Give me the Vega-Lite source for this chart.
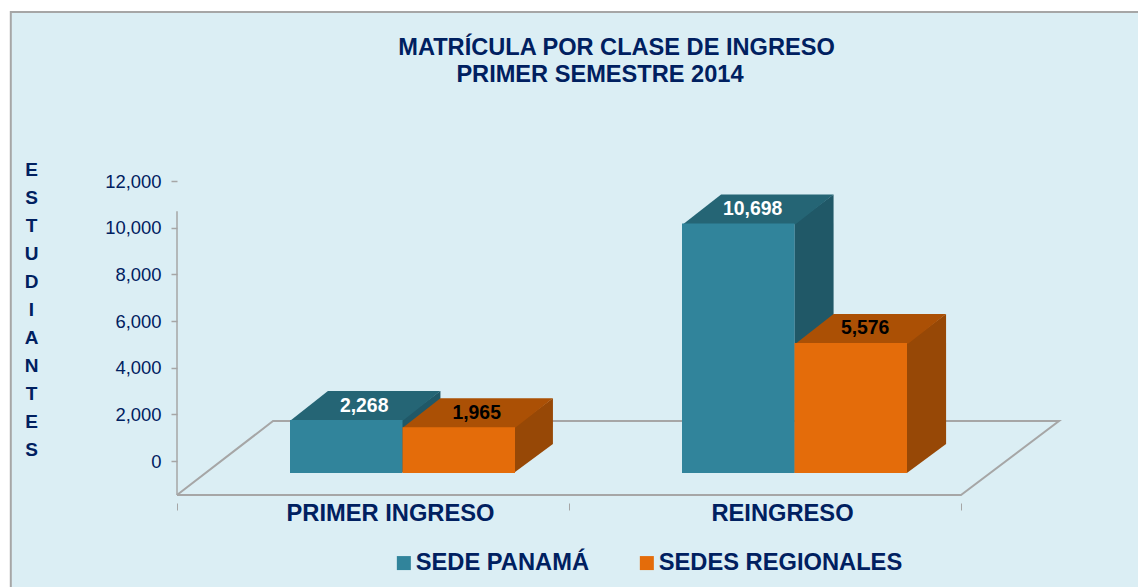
{
  "$schema": "https://vega.github.io/schema/vega-lite/v6.json",
  "width": 883,
  "height": 314,
  "autosize": {"type": "none"},
  "padding": {"left": 177, "top": 181, "right": 78, "bottom": 92},
  "background": "white",
  "config": {"view": {"stroke": null}, "font": "Liberation Sans"},
  "title": {
    "text": "MATRÍCULA POR CLASE DE INGRESO",
    "anchor": "middle",
    "frame": "group",
    "dx": -2,
    "font": "Liberation Sans",
    "fontWeight": "bold",
    "fontSize": 23.6,
    "color": "#002060",
    "offset": -49
  },
  "datasets": {
    "matricula": [
      {"clase": "PRIMER INGRESO", "sede": "SEDE PANAMÁ", "estudiantes": 2268},
      {"clase": "PRIMER INGRESO", "sede": "SEDES REGIONALES", "estudiantes": 1965},
      {"clase": "REINGRESO", "sede": "SEDE PANAMÁ", "estudiantes": 10698},
      {"clase": "REINGRESO", "sede": "SEDES REGIONALES", "estudiantes": 5576}
    ],
    "suelo": [
      {"orden": 1, "px": 0, "py": -1457},
      {"orden": 2, "px": 0.245, "py": 1714},
      {"orden": 3, "px": 2.25, "py": 1714},
      {"orden": 4, "px": 2.0, "py": -1457},
      {"orden": 5, "px": 0, "py": -1457}
    ]
  },
  "resolve": {"scale": {"x": "independent"}, "axis": {"x": "independent"}},
  "layer": [
    {
      "data": {"values": [{"marco": "panel"}]},
      "mark": {"type": "rect", "fill": "#dbeef4", "stroke": "#a6a6a6", "strokeWidth": 2},
      "encoding": {
        "x": {"datum": -0.424, "type": "quantitative", "scale": {"domain": [0, 2.2526], "nice": false, "zero": false}, "axis": null},
        "x2": {"datum": 2.7},
        "y": {"datum": 19243, "type": "quantitative", "scale": {"domain": [-1457, 12000], "nice": false, "zero": false}},
        "y2": {"datum": -5500}
      }
    },
    {
      "data": {"name": "suelo"},
      "mark": {"type": "line", "color": "#a6a6a6", "strokeWidth": 2, "interpolate": "linear"},
      "encoding": {
        "x": {"field": "px", "type": "quantitative", "scale": {"domain": [0, 2.2526], "nice": false, "zero": false}, "axis": null},
        "y": {"field": "py", "type": "quantitative"},
        "order": {"field": "orden", "type": "quantitative"}
      }
    },
    {
      "data": {"values": [{"eje": "y"}]},
      "mark": {"type": "rule", "color": "#a6a6a6", "strokeWidth": 1.5},
      "encoding": {
        "x": {"datum": 0, "type": "quantitative", "scale": {"domain": [0, 2.2526], "nice": false, "zero": false}, "axis": null},
        "y": {"datum": -1457, "type": "quantitative"},
        "y2": {"datum": 10700}
      }
    },
    {
      "data": {"name": "matricula"},
      "transform": [
        {"calculate": "(datum.clase === 'PRIMER INGRESO' ? 0.288 : 1.291) + (datum.sede === 'SEDE PANAMÁ' ? 0 : 0.287)", "as": "x0"},
        {"calculate": "datum.x0 + 0.284", "as": "x1"},
        {"calculate": "[0, 1]", "as": "d"},
        {"flatten": ["d"]},
        {"calculate": "datum.x1 + datum.d * 0.100", "as": "xs"},
        {"calculate": "datum.estudiantes + datum.d * 1243", "as": "ys"},
        {"calculate": "datum.d * 1243", "as": "ys2"}
      ],
      "mark": {"type": "area", "orient": "vertical", "yOffset": 12, "y2Offset": 12},
      "encoding": {
        "x": {"field": "xs", "type": "quantitative", "scale": {"domain": [0, 2.2526], "nice": false, "zero": false}, "axis": null},
        "y": {"field": "ys", "type": "quantitative", "stack": null},
        "y2": {"field": "ys2"},
        "detail": [{"field": "clase"}, {"field": "sede"}],
        "fill": {"condition": {"test": "datum.sede === 'SEDE PANAMÁ'", "value": "#205867"}, "value": "#974806"}
      }
    },
    {
      "data": {"name": "matricula"},
      "transform": [
        {"calculate": "(datum.clase === 'PRIMER INGRESO' ? 0.288 : 1.291) + (datum.sede === 'SEDE PANAMÁ' ? 0 : 0.287)", "as": "x0"},
        {"calculate": "datum.x0 + 0.287", "as": "x1"},
        {"calculate": "[0, 1]", "as": "d"},
        {"flatten": ["d"]},
        {"calculate": "datum.x0 + datum.d * 0.097", "as": "xa"},
        {"calculate": "datum.x1 + datum.d * 0.097", "as": "xb"},
        {"calculate": "datum.estudiantes - 40 + datum.d * 1283", "as": "ys"}
      ],
      "mark": {"type": "area", "orient": "horizontal", "yOffset": 12},
      "encoding": {
        "y": {"field": "ys", "type": "quantitative", "stack": null},
        "x": {"field": "xa", "type": "quantitative", "scale": {"domain": [0, 2.2526], "nice": false, "zero": false}, "axis": null, "stack": null},
        "x2": {"field": "xb"},
        "detail": [{"field": "clase"}, {"field": "sede"}],
        "fill": {"condition": {"test": "datum.sede === 'SEDE PANAMÁ'", "value": "#256575"}, "value": "#ab5005"}
      }
    },
    {
      "data": {"name": "matricula"},
      "mark": {"type": "bar", "yOffset": 12, "y2Offset": 12},
      "encoding": {
        "x": {"field": "clase", "type": "nominal", "scale": {"range": [0, 784], "paddingInner": 0, "paddingOuter": 0}, "axis": {
          "title": null,
          "labelAngle": 0,
          "labelFont": "Liberation Sans",
          "labelFontWeight": "bold",
          "labelFontSize": 23.7,
          "labelColor": "#002060",
          "labelOffset": 17,
          "labelPadding": -9,
          "labelLimit": 400,
          "domain": false,
          "ticks": true,
          "tickBand": "extent",
          "tickSize": 7,
          "tickColor": "#a6a6a6",
          "offset": 8,
          "zindex": 1
        }},
        "xOffset": {"field": "sede", "type": "nominal", "scale": {"range": [113, 338], "paddingInner": 0, "paddingOuter": 0}},
        "y": {"field": "estudiantes", "type": "quantitative", "stack": null, "axis": {
          "values": [0, 2000, 4000, 6000, 8000, 10000, 12000],
          "labelExpr": "format(datum.value, ',')",
          "domain": false,
          "grid": false,
          "zindex": 1,
          "ticks": true,
          "tickSize": 6,
          "tickColor": "#a6a6a6",
          "tickWidth": 1.5,
          "labelFont": "Liberation Sans",
          "labelFontSize": 18.4,
          "labelColor": "#002060",
          "labelPadding": 10,
          "labelBaseline": "middle",
          "title": ["E", "S", "T", "U", "D", "I", "A", "N", "T", "E", "S"],
          "titleFont": "Liberation Sans",
          "titleFontWeight": "bold",
          "titleFontSize": 19,
          "titleColor": "#002060",
          "titleAngle": 0,
          "titleAlign": "center",
          "titleBaseline": "top",
          "titleLineHeight": 28,
          "titleX": -146,
          "titleY": -21
        }},
        "y2": {"datum": 0},
        "color": {"field": "sede", "type": "nominal", "scale": {"domain": ["SEDE PANAMÁ", "SEDES REGIONALES"], "range": ["#31849b", "#e46c0a"]}, "legend": {
          "title": null,
          "orient": "none",
          "legendX": 215,
          "legendY": 370,
          "direction": "horizontal",
          "columns": 2,
          "columnPadding": 46,
          "symbolType": "square",
          "symbolSize": 196,
          "symbolStrokeWidth": 0,
          "labelFont": "Liberation Sans",
          "labelFontWeight": "bold",
          "labelFontSize": 23.7,
          "labelColor": "#002060",
          "labelOffset": 0,
          "labelLimit": 400
        }}
      }
    },
    {
      "data": {"name": "matricula"},
      "transform": [
        {"calculate": "(datum.clase === 'PRIMER INGRESO' ? 0.288 : 1.291) + (datum.sede === 'SEDE PANAMÁ' ? 0 : 0.287)", "as": "x0"},
        {"calculate": "datum.x0 + 0.1435 + (datum.clase === 'PRIMER INGRESO' ? 0.046 : 0.034)", "as": "xt"}
      ],
      "mark": {"type": "text", "font": "Liberation Sans", "fontWeight": "bold", "fontSize": 19.4, "baseline": "middle", "align": "center", "yOffset": -2.5},
      "encoding": {
        "x": {"field": "xt", "type": "quantitative", "scale": {"domain": [0, 2.2526], "nice": false, "zero": false}, "axis": null},
        "y": {"field": "estudiantes", "type": "quantitative"},
        "text": {"field": "estudiantes", "type": "quantitative", "format": ","},
        "fill": {"condition": {"test": "datum.sede === 'SEDE PANAMÁ'", "value": "white"}, "value": "black"}
      }
    },
    {
      "data": {"values": [{"titulo": "PRIMER SEMESTRE 2014"}]},
      "mark": {"type": "text", "font": "Liberation Sans", "fontWeight": "bold", "fontSize": 23.6, "baseline": "middle", "align": "center", "color": "#002060"},
      "encoding": {
        "x": {"datum": 1.079, "type": "quantitative", "scale": {"domain": [0, 2.2526], "nice": false, "zero": false}, "axis": null},
        "y": {"datum": 16543, "type": "quantitative"},
        "text": {"field": "titulo", "type": "nominal"}
      }
    }
  ]
}
